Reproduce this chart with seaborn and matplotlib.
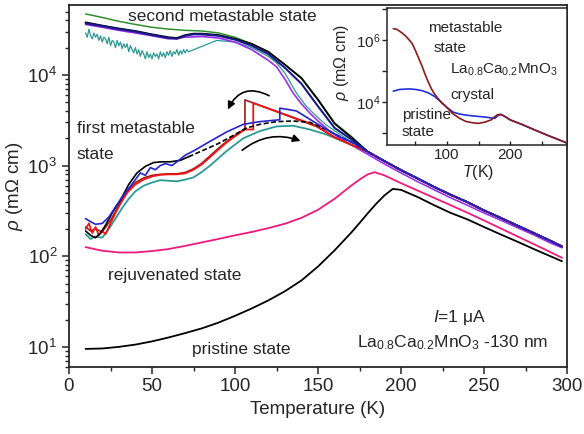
import matplotlib
matplotlib.use("Agg")
import matplotlib.pyplot as plt
import seaborn as sns
import pandas as pd
from matplotlib.ticker import FixedLocator, FuncFormatter, LogLocator, NullFormatter, MultipleLocator

# ---------------- data ----------------
# shared high-temperature branch of the metastable curves
T_hi = [180, 190, 200, 210, 220, 230, 240, 250, 260, 270, 280, 290, 297]
rho_hi = [1420, 1120, 890, 720, 580, 475, 395, 320, 265, 218, 180, 148, 128]
rho_hi_purple = [1330, 1040, 830, 665, 540, 440, 365, 300, 250, 207, 172, 140, 124]

# second metastable state
T_sec_black = [10, 20, 30, 40, 50, 60, 65, 70, 75, 80, 90, 100, 110, 120, 130, 140, 150, 160, 170]
rho_sec_black = [3.8e4, 3.5e4, 3.25e4, 3.05e4, 2.8e4, 2.6e4, 2.55e4, 2.75e4, 2.85e4, 2.85e4, 2.75e4,
                 2.5e4, 2.2e4, 1.8e4, 1.3e4, 9.2e3, 5.3e3, 2.9e3, 2.05e3]
T_sec_navy = [10, 20, 30, 40, 50, 60, 65, 70, 75, 80, 90, 100, 110, 120, 130, 140, 150, 160, 170]
rho_sec_navy = [3.7e4, 3.45e4, 3.2e4, 3.0e4, 2.75e4, 2.55e4, 2.5e4, 2.7e4, 2.8e4, 2.8e4, 2.7e4,
                2.45e4, 2.1e4, 1.7e4, 1.2e4, 8.0e3, 4.5e3, 2.6e3, 1.95e3]
T_sec_green = [10, 15, 20, 30, 40, 50, 60, 70, 80, 90, 100, 110, 120, 130, 140, 150, 160, 170]
rho_sec_green = [4.7e4, 4.5e4, 4.3e4, 3.9e4, 3.6e4, 3.35e4, 3.2e4, 3.1e4, 3.05e4, 2.9e4, 2.6e4,
                 2.2e4, 1.8e4, 1.3e4, 9.3e3, 5.4e3, 2.95e3, 2.1e3]
T_sec_purple = [10, 20, 30, 40, 50, 60, 70, 80, 90, 100, 110, 120, 125, 130, 135, 140, 145, 150, 157, 165, 175]
rho_sec_purple = [3.6e4, 3.35e4, 3.1e4, 2.9e4, 2.7e4, 2.5e4, 2.6e4, 2.65e4, 2.55e4, 2.3e4, 1.9e4,
                  1.45e4, 1.23e4, 9e3, 6.3e3, 4.8e3, 3.8e3, 3.1e3, 2.4e3, 1.9e3, 1.5e3]
T_sec_teal = [10, 11, 12, 13, 14, 15, 16, 17, 18, 19, 20, 21, 22, 23, 24, 25, 26, 27, 28, 29,
              30, 31, 32, 33, 34, 35, 36, 37, 38, 39, 40, 41, 42, 43, 44, 45, 46, 47, 48, 49,
              50, 51, 52, 53, 54, 55, 56, 57, 58, 59, 60, 61, 62, 63, 64, 65, 66, 67, 68, 69,
              70, 71, 72, 89, 100, 110, 120, 125, 130, 137, 143, 149, 155, 165, 175]
rho_sec_teal = [2.9e4, 2.6e4, 3.2e4, 2.7e4, 2.5e4, 2.9e4, 2.6e4, 2.8e4, 2.4e4, 2.7e4,
                2.3e4, 2.6e4, 2.5e4, 2.2e4, 2.6e4, 2.1e4, 2.4e4, 2.3e4, 2.0e4, 2.4e4,
                2.1e4, 2.3e4, 1.95e4, 2.2e4, 2.0e4, 2.2e4, 1.8e4, 2.1e4, 1.9e4, 1.75e4,
                2.0e4, 1.7e4, 1.9e4, 1.6e4, 1.85e4, 1.7e4, 1.5e4, 1.8e4, 1.55e4, 1.7e4,
                1.5e4, 1.75e4, 1.6e4, 1.7e4, 1.5e4, 1.8e4, 1.6e4, 1.75e4, 1.55e4, 1.8e4,
                1.65e4, 1.85e4, 1.6e4, 1.8e4, 1.7e4, 1.9e4, 1.65e4, 1.85e4, 1.7e4, 1.9e4,
                1.75e4, 1.9e4, 1.8e4, 2.4e4, 2.3e4, 2.0e4, 1.6e4, 1.36e4, 1.05e4, 6.3e3, 4.5e3,
                3.5e3, 2.8e3, 2.1e3, 1.6e3]

# first metastable state
T_fst_red = [10, 12, 14, 16, 18, 20, 22, 25, 28, 31, 35, 40, 45, 50, 55, 60, 65, 70, 75, 80, 85, 90,
             95, 100, 106, 111, 111, 149, 160, 170]
rho_fst_red = [200, 230, 180, 210, 170, 190, 175, 230, 300, 380, 500, 620, 700, 760, 790, 800, 800,
               820, 900, 1030, 1240, 1500, 1800, 2100, 2500, 2500, 4900, 2750, 2050, 1700]
T_fst_dred = [10, 13, 16, 20, 25, 30, 35, 40, 45, 50, 55, 60, 65, 70, 75, 80, 85, 90, 95, 100, 106,
              106, 149, 160, 170]
rho_fst_dred = [210, 190, 200, 185, 250, 360, 520, 650, 730, 780, 800, 810, 810, 840, 920, 1060,
                1280, 1550, 1850, 2150, 2550, 5300, 2700, 2050, 1700]
T_fst_blue = [10, 13, 16, 20, 24, 28, 32, 36, 40, 43, 46, 49, 52, 55, 58, 62, 65, 70, 75, 85, 95,
              105, 115, 127, 127, 137, 155, 165, 172]
rho_fst_blue = [260, 240, 225, 230, 270, 350, 450, 560, 700, 830, 780, 950, 900, 1000, 1050, 1000,
                1100, 1300, 1450, 1850, 2350, 2850, 3050, 3200, 4300, 4000, 2500, 2000, 1750]
T_fst_black_a = [10, 13, 16, 19, 22, 26, 31, 36, 41, 46, 51, 56, 61, 67, 72]
rho_fst_black_a = [190, 170, 160, 180, 220, 300, 415, 620, 830, 980, 1080, 1100, 1100, 1140, 1250]
T_fst_black_b = [72, 80, 90, 100, 107, 115, 125, 135, 145, 155, 165, 172]
rho_fst_black_b = [1250, 1450, 1750, 2200, 2600, 2850, 3050, 3100, 3000, 2500, 2000, 1750]
T_fst_teal = [10, 13, 16, 20, 24, 28, 32, 36, 40, 45, 50, 55, 60, 65, 70, 75, 80, 85, 95, 105, 115,
              125, 135, 145, 155, 165, 175]
rho_fst_teal = [175, 155, 165, 160, 200, 260, 340, 430, 520, 600, 650, 690, 680, 670, 700, 740, 850,
                1000, 1450, 2000, 2400, 2700, 2750, 2500, 2200, 1850, 1550]

# rejuvenated and pristine states
T_rejuv = [10, 20, 30, 40, 50, 60, 70, 80, 90, 100, 110, 120, 130, 140, 150, 160, 170, 175, 180, 184,
           190, 200, 210, 220, 230, 240, 250, 260, 270, 280, 290, 297]
rho_rejuv = [126, 115, 110, 110, 114, 120, 130, 142, 155, 170, 185, 204, 228, 265, 325, 430, 600,
             700, 800, 845, 780, 640, 530, 440, 365, 302, 248, 203, 166, 136, 111, 96]
T_prist = [10, 20, 30, 40, 50, 60, 70, 80, 90, 100, 110, 120, 130, 140, 150, 160, 170, 175, 180, 185,
           190, 195, 200, 210, 220, 230, 240, 250, 260, 270, 280, 290, 297]
rho_prist = [9.5, 9.6, 10.0, 10.6, 11.5, 12.7, 14.2, 16.0, 18.5, 22, 26.5, 32.5, 41, 54, 77, 116, 182,
             232, 298, 378, 468, 552, 540, 450, 365, 300, 255, 210, 174, 145, 120, 100, 88]

# inset: La0.8Ca0.2MnO3 crystal
T_in_meta = [15, 20, 25, 30, 35, 40, 45, 50, 55, 60, 65, 70, 75, 80, 90, 100, 105, 110, 120, 130, 140,
             150, 160, 170, 175, 180, 185, 190, 200, 220, 240, 260, 280, 290]
rho_in_meta = [2.3e6, 2.2e6, 1.9e6, 1.6e6, 1.3e6, 1.0e6, 7.5e5, 4.5e5, 2.6e5, 1.5e5, 8e4, 4.5e4,
               2.7e4, 1.8e4, 1.0e4, 6.5e3, 5.0e3, 4.0e3, 2.9e3, 2.3e3, 2.1e3, 2.0e3, 2.2e3, 2.6e3,
               3.2e3, 3.8e3, 3.9e3, 3.5e3, 2.6e3, 1.8e3, 1.2e3, 810, 560, 460]
T_in_prist = [15, 25, 40, 50, 60, 70, 80, 90, 100, 110, 120, 130, 140, 150, 160, 170, 176, 180, 185,
              190, 200, 220, 240, 260, 280, 290]
rho_in_prist = [2.2e4, 2.5e4, 2.6e4, 2.5e4, 2.3e4, 1.95e4, 1.5e4, 1.0e4, 6.5e3, 4.6e3, 4.0e3, 3.7e3,
                3.5e3, 3.35e3, 3.2e3, 3.0e3, 2.9e3, 3.5e3, 3.9e3, 3.5e3, 2.6e3, 1.8e3, 1.2e3, 810,
                560, 460]

# ---------------- style ----------------
sns.set_style("ticks")
plt.rcParams["font.family"] = ["Liberation Sans", "DejaVu Sans"]
plt.rcParams["mathtext.fontset"] = "custom"
plt.rcParams["mathtext.rm"] = "Liberation Sans"
plt.rcParams["mathtext.it"] = "Liberation Sans:italic"
plt.rcParams["mathtext.bf"] = "Liberation Sans:bold"
plt.rcParams["axes.linewidth"] = 1.2

BLACK = "#000000"
NAVY = "#1a1a8a"
BLUE = "#2323d0"
PURPLE = "#9a2ef0"
GREEN = "#2f8f2f"
TEAL = "#2a9a96"
RED = "#f01515"
DRED = "#a01c1c"
PINK = "#ef1a7c"

fig = plt.figure(figsize=(5.84, 4.34), dpi=100)
ax = fig.add_axes([69 / 584, 67 / 434, 498 / 584, 362 / 434])


def draw(a, T, rho, color, lw=1.1, ls="-", z=2):
    df = pd.DataFrame({"T": T, "rho": rho})
    sns.lineplot(data=df, x="T", y="rho", sort=False, estimator=None, color=color,
                 lw=lw, ls=ls, ax=a, zorder=z)


draw(ax, T_prist, rho_prist, BLACK, 1.3)
draw(ax, T_rejuv, rho_rejuv, PINK, 1.3)

draw(ax, T_sec_teal + T_hi, rho_sec_teal + rho_hi, TEAL, 0.9)
draw(ax, T_sec_purple + T_hi, rho_sec_purple + rho_hi_purple, PURPLE, 1.2)
draw(ax, T_sec_green + T_hi, rho_sec_green + rho_hi, GREEN, 1.1)
draw(ax, T_sec_black + T_hi, rho_sec_black + rho_hi, BLACK, 1.3)
draw(ax, T_sec_navy + T_hi, rho_sec_navy + rho_hi, NAVY, 1.5)

draw(ax, T_fst_teal + T_hi, rho_fst_teal + rho_hi, TEAL, 1.3)
draw(ax, T_fst_dred + T_hi, rho_fst_dred + rho_hi, DRED, 1.2)
draw(ax, T_fst_red + T_hi, rho_fst_red + rho_hi, RED, 1.3)
draw(ax, T_fst_black_a, rho_fst_black_a, BLACK, 1.2)
draw(ax, T_fst_black_b + T_hi, rho_fst_black_b + rho_hi, BLACK, 1.2, ls=(0, (3, 1.5)))
draw(ax, T_fst_blue + T_hi, rho_fst_blue + rho_hi, BLUE, 1.2)

ax.set_yscale("log")
ax.set_xlim(0, 300)
ax.set_ylim(6, 5.9e4)
ax.xaxis.set_major_locator(MultipleLocator(50))
ax.xaxis.set_minor_locator(MultipleLocator(25))
ax.yaxis.set_major_locator(LogLocator(base=10))
ax.yaxis.set_minor_locator(LogLocator(base=10, subs=range(2, 10)))
ax.yaxis.set_minor_formatter(NullFormatter())
ax.tick_params(which="major", direction="out", length=5, width=1.1, labelsize=13.5)
ax.tick_params(which="minor", direction="out", length=3, width=1.0)
ax.tick_params(axis="x", pad=3)
ax.set_xlabel("Temperature (K)", fontsize=13.5, labelpad=4)
ax.set_ylabel(r"$\rho$ (m$\Omega$ cm)", fontsize=13.5)
ax.yaxis.set_label_coords(-0.088, 0.5)
for s in ax.spines.values():
    s.set_visible(True)
    s.set_linewidth(1.3)

# arrows
ax.annotate("", xy=(95, 3.9e3), xytext=(122, 5.7e3),
            arrowprops=dict(arrowstyle="-|>", connectionstyle="arc3,rad=0.55",
                            color="k", lw=1.2, mutation_scale=11))
ax.annotate("", xy=(141, 1.82e3), xytext=(103, 1.41e3),
            arrowprops=dict(arrowstyle="-|>", connectionstyle="arc3,rad=-0.3",
                            color="k", lw=1.2, mutation_scale=11))

# annotations
fs = 12.5
ax.text(0.118, 0.967, "second metastable state", transform=ax.transAxes, fontsize=fs, va="center")
ax.text(0.016, 0.660, "first metastable", transform=ax.transAxes, fontsize=fs, va="center")
ax.text(0.016, 0.586, "state", transform=ax.transAxes, fontsize=fs, va="center")
ax.text(0.078, 0.254, "rejuvenated state", transform=ax.transAxes, fontsize=fs, va="center")
ax.text(0.247, 0.047, "pristine state", transform=ax.transAxes, fontsize=fs, va="center")
ax.text(0.731, 0.138, r"$I$=1 μA", transform=ax.transAxes, fontsize=fs, va="center")
ax.text(0.578, 0.066, r"La$_{0.8}$Ca$_{0.2}$MnO$_{3}$ -130 nm", transform=ax.transAxes,
        fontsize=fs, va="center")

# ---------------- inset ----------------
ins = fig.add_axes([387 / 584, 289 / 434, 180 / 584, 137 / 434])
ins.set_facecolor("white")
draw(ins, T_in_prist, rho_in_prist, "#2230e0", 1.2)
draw(ins, T_in_meta, rho_in_meta, "#8b1a1a", 1.2)
ins.set_yscale("log")
ins.set_xlim(5, 290)
ins.set_ylim(400, 1.07e7)
ins.xaxis.set_major_locator(FixedLocator([100, 200]))
ins.xaxis.set_minor_locator(FixedLocator([50, 150, 250]))
ins.yaxis.set_major_locator(FixedLocator([1e3, 1e4, 1e5, 1e6, 1e7]))
ins.yaxis.set_major_formatter(FuncFormatter(
    lambda v, p: {1e4: r"$10^{4}$", 1e6: r"$10^{6}$"}.get(v, "")))
ins.yaxis.set_minor_locator(LogLocator(base=10, subs=range(2, 10)))
ins.yaxis.set_minor_formatter(NullFormatter())
ins.tick_params(axis="x", which="both", direction="in", length=3, width=1.0, labelsize=11, pad=2)
ins.tick_params(axis="y", which="major", direction="out", length=3.5, width=1.0, labelsize=11, pad=1)
ins.tick_params(axis="y", which="minor", direction="out", length=2, width=0.8)
ins.set_xlabel(r"$T$(K)", fontsize=11.5, labelpad=0)
ins.xaxis.set_label_coords(0.505, -0.13)
ins.set_ylabel(r"$\rho$ (m$\Omega$ cm)", fontsize=11.5, labelpad=0)
ins.yaxis.set_label_coords(-0.2, 0.6)
for s in ins.spines.values():
    s.set_visible(True)
    s.set_linewidth(1.1)

fi = 11
ins.text(0.228, 0.854, "metastable", transform=ins.transAxes, fontsize=fi, va="center")
ins.text(0.256, 0.708, "state", transform=ins.transAxes, fontsize=fi, va="center")
ins.text(0.35, 0.547, r"La$_{0.8}$Ca$_{0.2}$MnO$_{3}$", transform=ins.transAxes, fontsize=fi, va="center")
ins.text(0.35, 0.365, "crystal", transform=ins.transAxes, fontsize=fi, va="center")
ins.text(0.083, 0.219, "pristine", transform=ins.transAxes, fontsize=fi, va="center")
ins.text(0.083, 0.095, "state", transform=ins.transAxes, fontsize=fi, va="center")

fig.savefig("out.png", dpi=100)
